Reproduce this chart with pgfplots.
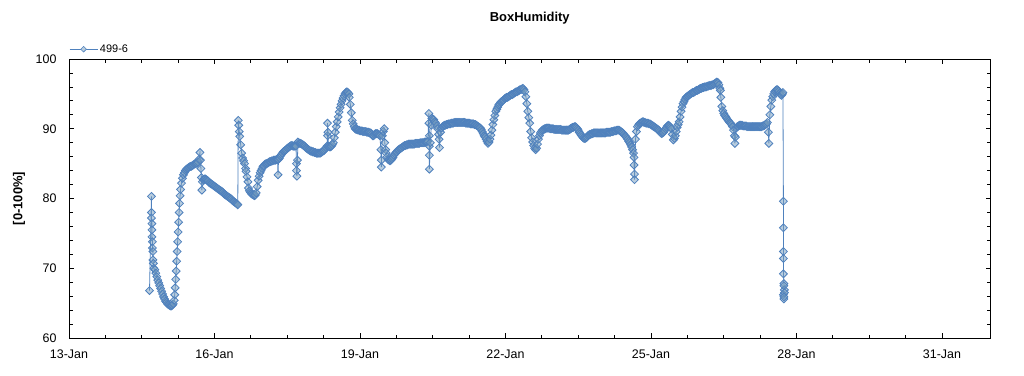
\documentclass[border=0pt]{standalone}
\usepackage{pgfplots}
\pgfplotsset{compat=1.18}
\usepackage{fontspec}
\setmainfont{Liberation Sans}
\definecolor{lblue}{RGB}{79,129,189}
\definecolor{mfill}{RGB}{185,205,222}
\definecolor{mfillb}{RGB}{115,155,189}
\begin{document}
\begin{tikzpicture}[x=1bp,y=1bp]
\path[use as bounding box] (0,0) rectangle (1024,375);
\begin{axis}[
  at={(69bp,37bp)}, anchor=south west,
  scale only axis, width=921.5bp, height=279bp,
  xmin=0, xmax=19, ymin=60, ymax=100,
  xtick={0,3,6,9,12,15,18},
  xticklabels={13-Jan,16-Jan,19-Jan,22-Jan,25-Jan,28-Jan,31-Jan},
  minor x tick num=3,
  ytick={60,70,80,90,100},
  minor y tick num=4,
  tick align=inside,
  major tick length=5bp, minor tick length=3.5bp,
  tick style={black, line width=0.8bp},
  axis line style={black, line width=0.8bp},
  /pgf/number format/assume math mode=true,
  ticklabel style={font=\fontsize{12.5}{14}\selectfont},
  yticklabel style={xshift=-9bp},
  xticklabel style={yshift=-8bp},
  legend style={at={(0,1)}, anchor=south west, xshift=0bp, yshift=3bp,
     draw=none, fill=none, font=\fontsize{11}{13}\selectfont,
     inner sep=0pt},
  legend image code/.code={
     \draw[lblue, line width=0.8bp] (0bp,0bp) -- (28bp,0bp);
     \draw[lblue, fill=mfill, line width=0.6bp, rotate around={45:(14bp,0bp)}] (12bp,-2bp) rectangle (16bp,2bp);
  },
]
\addplot[lblue, line width=0.8bp, mark=square*, mark size=2.8bp,
  mark options={rotate=45, fill=mfillb, fill opacity=0.5, draw=lblue, line width=0.8bp, solid}]
coordinates {
(1.66,66.8)(1.70,80.3)(1.70,78.0)(1.70,77.2)(1.71,76.4)(1.71,75.5)(1.71,74.5)(1.72,73.8)(1.72,72.9)(1.73,72.4)(1.73,71.2)(1.74,70.7)(1.75,70.0)
(1.77,69.8)(1.79,69.3)(1.81,68.8)(1.83,68.3)(1.85,67.9)(1.87,67.5)(1.89,67.1)(1.91,66.7)(1.93,66.3)(1.95,65.9)(1.97,65.6)(1.99,65.3)
(2.01,65.1)(2.03,64.9)(2.05,64.8)(2.07,64.7)(2.09,64.6)(2.11,64.6)(2.13,64.7)(2.15,64.9)(2.17,65.4)(2.18,66.2)(2.19,67.2)(2.20,68.4)
(2.21,69.6)(2.22,71.0)(2.23,72.4)(2.24,73.8)(2.25,75.2)(2.26,76.6)(2.27,78.0)(2.28,79.3)(2.29,80.4)(2.30,81.3)(2.32,82.2)(2.34,82.9)
(2.36,83.4)(2.38,83.7)(2.40,84.0)(2.42,84.2)(2.44,84.3)(2.46,84.4)(2.48,84.5)(2.50,84.6)(2.52,84.6)(2.54,84.7)(2.56,84.8)(2.58,84.9)
(2.60,85.0)(2.62,85.0)(2.64,85.1)(2.66,85.2)(2.68,85.6)(2.70,86.6)(2.71,85.5)(2.72,84.3)(2.73,83.0)(2.74,81.2)
(2.75,82.4)(2.77,82.7)(2.79,82.8)(2.81,82.8)(2.83,82.7)(2.85,82.6)(2.87,82.5)(2.89,82.3)(2.91,82.2)(2.93,82.1)(2.95,82.0)(2.97,81.9)
(2.99,81.8)(3.01,81.7)(3.03,81.6)(3.05,81.5)(3.07,81.4)(3.09,81.3)(3.11,81.2)(3.13,81.1)(3.15,81.0)(3.17,80.9)(3.19,80.7)(3.21,80.6)
(3.23,80.5)(3.25,80.4)(3.27,80.3)(3.29,80.2)(3.31,80.1)(3.33,80.0)(3.35,79.9)(3.37,79.7)(3.39,79.6)(3.41,79.5)(3.43,79.4)(3.45,79.3)
(3.47,79.2)(3.48,79.1)(3.49,91.2)(3.50,90.5)(3.51,89.6)(3.52,88.9)(3.54,87.7)(3.56,86.5)(3.58,85.8)(3.60,85.4)(3.62,85.0)(3.64,84.3)
(3.65,83.9)(3.67,83.1)(3.69,82.4)(3.70,81.5)(3.72,81.1)(3.74,80.9)(3.76,80.7)(3.78,80.6)(3.80,80.5)(3.82,80.4)(3.84,80.5)(3.86,80.8)
(3.88,81.7)(3.90,82.6)(3.92,83.2)(3.94,83.7)(3.96,84.0)(3.98,84.3)(4.00,84.6)(4.02,84.7)(4.04,84.9)(4.06,85.0)(4.08,85.0)(4.10,85.1)
(4.12,85.2)(4.14,85.3)(4.16,85.3)(4.18,85.4)(4.20,85.4)(4.22,85.5)(4.24,85.5)(4.26,85.5)(4.28,85.6)(4.30,85.6)(4.31,83.4)(4.32,85.6)
(4.34,85.8)(4.36,86.1)(4.38,86.3)(4.40,86.5)(4.42,86.7)(4.44,86.8)(4.46,86.9)(4.48,87.0)(4.50,87.2)(4.52,87.3)(4.54,87.4)(4.56,87.5)
(4.58,87.6)(4.60,87.6)(4.62,87.5)(4.64,87.5)(4.66,87.5)(4.68,87.5)(4.69,85.0)(4.69,84.0)(4.70,83.2)(4.71,85.5)(4.72,88.1)(4.74,88.0)
(4.76,87.9)(4.78,87.9)(4.80,87.8)(4.82,87.7)(4.84,87.6)(4.86,87.5)(4.88,87.3)(4.90,87.2)(4.92,87.1)(4.94,87.0)(4.96,86.9)(4.98,86.8)
(5.00,86.8)(5.02,86.7)(5.04,86.7)(5.06,86.6)(5.08,86.6)(5.10,86.5)(5.12,86.5)(5.14,86.5)(5.16,86.5)(5.18,86.5)(5.20,86.6)(5.22,86.7)
(5.24,86.8)(5.26,86.9)(5.28,87.1)(5.30,87.3)(5.32,87.5)(5.33,89.0)(5.33,90.8)(5.34,89.5)(5.35,87.5)(5.37,87.4)(5.39,87.4)(5.41,87.5)
(5.43,87.7)(5.45,88.0)(5.47,88.7)(5.49,89.5)(5.51,90.3)(5.53,91.0)(5.55,91.7)(5.57,92.4)(5.59,93.0)(5.61,93.5)(5.63,94.0)(5.65,94.4)
(5.67,94.7)(5.69,95.0)(5.71,95.2)(5.73,95.3)(5.75,95.2)(5.77,95.0)(5.78,94.5)(5.80,93.5)(5.82,92.3)(5.84,91.2)(5.86,90.7)(5.88,90.3)
(5.90,90.0)(5.92,89.9)(5.94,89.9)(5.96,89.8)(5.98,89.8)(6.00,89.7)(6.02,89.7)(6.04,89.7)(6.06,89.6)(6.08,89.6)(6.10,89.6)(6.12,89.6)
(6.14,89.5)(6.16,89.5)(6.18,89.5)(6.20,89.4)(6.22,89.4)(6.24,89.2)(6.26,89.0)(6.28,89.0)(6.30,89.2)(6.32,89.3)(6.34,89.3)(6.36,89.3)
(6.38,89.2)(6.40,89.1)(6.41,89.0)(6.43,87.0)(6.44,85.5)(6.44,84.5)(6.46,89.0)(6.48,89.6)(6.50,90.0)(6.51,88.0)(6.53,87.0)(6.54,86.5)
(6.56,86.0)(6.58,85.6)(6.60,85.5)(6.62,85.4)(6.64,85.5)(6.66,85.7)(6.68,85.9)(6.70,86.2)(6.72,86.4)(6.74,86.6)(6.76,86.7)(6.78,86.9)
(6.80,87.0)(6.82,87.1)(6.84,87.2)(6.86,87.3)(6.88,87.4)(6.90,87.5)(6.92,87.6)(6.94,87.6)(6.96,87.7)(6.98,87.7)(7.00,87.8)(7.02,87.8)
(7.04,87.8)(7.06,87.8)(7.08,87.8)(7.10,87.8)(7.12,87.8)(7.14,87.9)(7.16,87.9)(7.18,87.9)(7.20,87.9)(7.22,87.9)(7.24,88.0)(7.26,88.0)
(7.28,88.0)(7.30,88.0)(7.32,88.0)(7.34,88.1)(7.36,88.1)(7.38,88.1)(7.40,88.2)(7.42,92.2)(7.42,90.8)(7.43,89.0)(7.43,87.5)(7.43,86.2)
(7.43,84.2)(7.45,88.0)(7.47,90.5)(7.48,91.5)(7.50,91.4)(7.52,91.3)(7.54,91.0)(7.56,90.8)(7.58,90.4)(7.60,90.0)(7.62,89.2)(7.63,88.5)
(7.64,87.3)(7.66,89.5)(7.68,90.1)(7.70,90.3)(7.72,90.4)(7.74,90.5)(7.76,90.5)(7.78,90.6)(7.80,90.6)(7.82,90.7)(7.84,90.7)(7.86,90.7)
(7.88,90.8)(7.90,90.8)(7.92,90.8)(7.94,90.9)(7.96,90.9)(7.98,90.9)(8.00,90.9)(8.02,90.9)(8.04,90.9)(8.06,90.9)(8.08,90.9)(8.10,90.9)
(8.12,90.9)(8.14,90.9)(8.16,90.9)(8.18,90.8)(8.20,90.8)(8.22,90.8)(8.24,90.8)(8.26,90.8)(8.28,90.7)(8.30,90.7)(8.32,90.7)(8.34,90.7)
(8.36,90.6)(8.38,90.6)(8.40,90.5)(8.42,90.4)(8.44,90.3)(8.46,90.2)(8.48,90.1)(8.50,89.9)(8.52,89.6)(8.54,89.3)(8.56,89.0)(8.58,88.8)
(8.60,88.5)(8.62,88.2)(8.64,87.9)(8.66,88.1)(8.68,88.5)(8.70,89.1)(8.72,89.8)(8.74,90.6)(8.76,91.3)(8.78,91.9)(8.80,92.5)(8.82,92.8)
(8.84,93.1)(8.86,93.4)(8.88,93.6)(8.90,93.8)(8.92,93.9)(8.94,94.0)(8.96,94.1)(8.98,94.3)(9.00,94.4)(9.02,94.5)(9.04,94.5)(9.06,94.6)
(9.08,94.7)(9.10,94.8)(9.12,94.9)(9.14,94.9)(9.16,95.0)(9.18,95.1)(9.20,95.2)(9.22,95.3)(9.24,95.3)(9.26,95.4)(9.28,95.5)(9.30,95.6)
(9.32,95.6)(9.34,95.7)(9.36,95.8)(9.38,95.6)(9.40,95.3)(9.42,94.6)(9.44,93.6)(9.46,92.5)(9.48,91.6)(9.50,90.8)(9.52,89.6)(9.54,88.7)
(9.56,88.1)(9.58,87.6)(9.60,87.2)(9.62,87.0)(9.64,87.2)(9.66,87.8)(9.68,88.5)(9.70,89.0)(9.72,89.4)(9.74,89.6)(9.76,89.8)(9.78,89.9)
(9.80,90.0)(9.82,90.0)(9.84,90.1)(9.86,90.1)(9.88,90.1)(9.90,90.1)(9.92,90.0)(9.94,90.0)(9.96,90.0)(9.98,90.0)(10.00,89.9)(10.02,89.9)
(10.04,89.9)(10.06,89.9)(10.08,89.9)(10.10,89.9)(10.12,89.9)(10.14,89.9)(10.16,89.8)(10.18,89.8)(10.20,89.8)(10.22,89.8)(10.24,89.8)
(10.26,89.8)(10.28,89.8)(10.30,89.8)(10.32,89.9)(10.34,90.0)(10.36,90.1)(10.38,90.2)(10.40,90.2)(10.42,90.3)(10.44,90.3)(10.46,90.2)
(10.48,90.0)(10.50,89.8)(10.52,89.5)(10.54,89.3)(10.56,89.1)(10.58,88.9)(10.60,88.7)(10.62,88.6)(10.64,88.6)(10.66,88.7)(10.68,88.8)
(10.70,89.0)(10.72,89.1)(10.74,89.2)(10.76,89.2)(10.78,89.3)(10.80,89.3)(10.82,89.4)(10.84,89.4)(10.86,89.4)(10.88,89.4)(10.90,89.4)
(10.92,89.4)(10.94,89.4)(10.96,89.4)(10.98,89.4)(11.00,89.4)(11.02,89.4)(11.04,89.4)(11.06,89.4)(11.08,89.5)(11.10,89.5)(11.12,89.5)
(11.14,89.5)(11.16,89.5)(11.18,89.6)(11.20,89.6)(11.22,89.6)(11.24,89.7)(11.26,89.7)(11.28,89.7)(11.30,89.8)(11.32,89.8)(11.34,89.8)
(11.36,89.7)(11.38,89.6)(11.40,89.5)(11.42,89.4)(11.44,89.2)(11.46,89.0)(11.48,88.9)(11.50,88.7)(11.52,88.5)(11.54,88.2)(11.56,88.0)
(11.58,87.7)(11.60,87.4)(11.62,87.0)(11.64,86.5)(11.65,85.9)(11.65,84.8)(11.66,83.5)(11.66,82.7)(11.68,88.5)(11.70,89.6)(11.72,90.3)
(11.74,90.5)(11.76,90.7)(11.78,90.8)(11.80,90.9)(11.82,91.0)(11.84,91.0)(11.86,90.9)(11.88,90.9)(11.90,90.8)(11.92,90.8)(11.94,90.8)
(11.96,90.7)(11.98,90.7)(12.00,90.6)(12.02,90.5)(12.04,90.4)(12.06,90.3)(12.08,90.2)(12.10,90.1)(12.12,90.0)(12.14,89.9)(12.16,89.8)
(12.18,89.6)(12.20,89.4)(12.22,89.3)(12.24,89.4)(12.26,89.5)(12.28,89.7)(12.30,90.0)(12.32,90.2)(12.34,90.4)(12.36,90.5)(12.38,90.4)
(12.40,90.2)(12.42,90.0)(12.44,89.2)(12.46,88.4)(12.48,88.6)(12.50,89.0)(12.52,89.6)(12.54,90.2)(12.56,90.6)(12.58,91.0)(12.60,91.7)
(12.62,92.5)(12.64,93.1)(12.66,93.6)(12.68,93.9)(12.70,94.2)(12.72,94.5)(12.74,94.6)(12.76,94.7)(12.78,94.8)(12.80,94.9)(12.82,95.0)
(12.84,95.1)(12.86,95.2)(12.88,95.2)(12.90,95.3)(12.92,95.4)(12.94,95.5)(12.96,95.5)(12.98,95.6)(13.00,95.7)(13.02,95.8)(13.04,95.8)
(13.06,95.9)(13.08,95.9)(13.10,96.0)(13.12,96.0)(13.14,96.0)(13.16,96.1)(13.18,96.1)(13.20,96.2)(13.22,96.2)(13.24,96.2)(13.26,96.3)
(13.28,96.3)(13.30,96.4)(13.32,96.5)(13.34,96.6)(13.36,96.7)(13.38,96.6)(13.40,96.3)(13.42,95.8)(13.43,95.5)(13.44,94.5)(13.46,93.2)
(13.48,92.6)(13.50,92.2)(13.52,91.9)(13.54,91.7)(13.56,91.5)(13.58,91.3)(13.60,91.1)(13.62,90.9)(13.64,90.8)(13.66,90.6)(13.68,90.3)
(13.70,89.8)(13.72,89.0)(13.73,87.9)(13.74,88.8)(13.76,90.1)(13.78,90.3)(13.80,90.4)(13.82,90.5)(13.84,90.5)(13.86,90.5)(13.88,90.5)
(13.90,90.4)(13.92,90.4)(13.94,90.4)(13.96,90.4)(13.98,90.3)(14.00,90.3)(14.02,90.3)(14.04,90.3)(14.06,90.3)(14.08,90.3)(14.10,90.3)
(14.12,90.3)(14.14,90.3)(14.16,90.3)(14.18,90.3)(14.20,90.3)(14.22,90.3)(14.24,90.3)(14.26,90.3)(14.28,90.3)(14.30,90.4)(14.32,90.4)
(14.34,90.5)(14.36,90.6)(14.38,90.7)(14.40,90.9)(14.42,89.5)(14.43,87.9)(14.45,92.0)(14.47,93.2)(14.49,94.1)(14.51,94.6)(14.53,95.0)
(14.55,95.3)(14.57,95.5)(14.59,95.6)(14.61,95.6)(14.63,95.4)(14.65,95.1)(14.67,94.9)(14.69,94.8)(14.71,95.0)(14.72,95.2)
(14.73,79.6)(14.73,75.8)(14.73,72.4)(14.73,71.4)(14.73,69.2)(14.74,67.8)(14.75,66.9)(14.74,67.5)(14.73,66.2)(14.74,65.6)(14.75,66.5)(14.74,65.9)
};
\addlegendentry{499-6}
\end{axis}
\node[font=\bfseries\fontsize{13}{15}\selectfont] at (529.75,357) {BoxHumidity};
\node[rotate=90, font=\bfseries\fontsize{13}{15}\selectfont] at (19,176.5) {[0-100\%]};
\end{tikzpicture}
\end{document}
